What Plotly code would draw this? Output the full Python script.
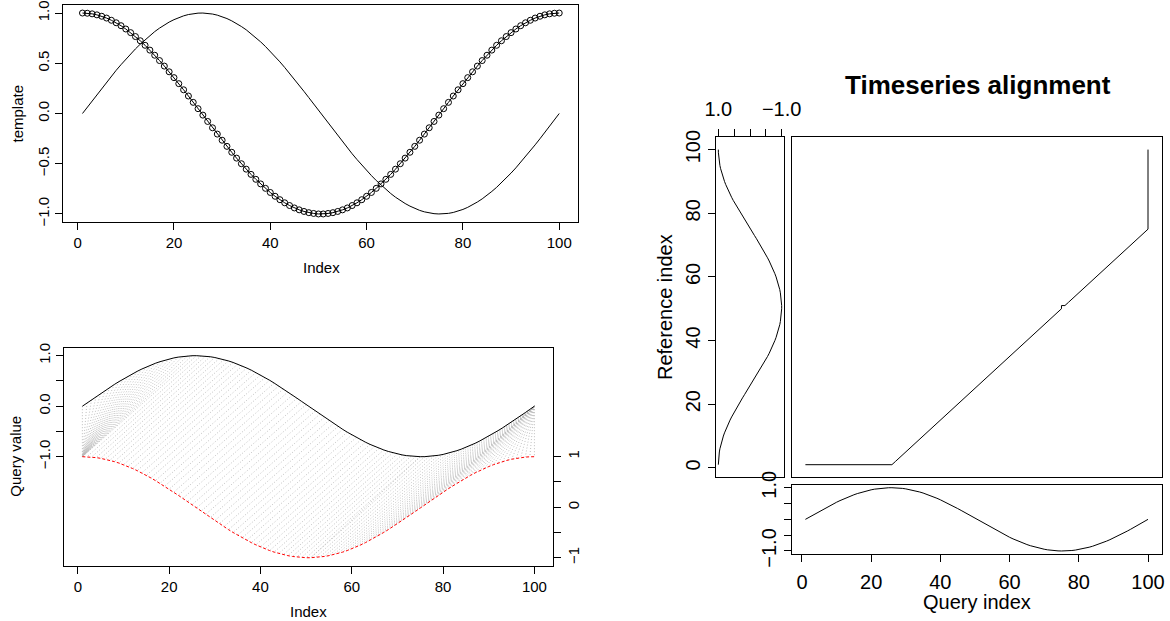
import plotly.graph_objects as go

# ---- data -------------------------------------------------------------
index = list(range(1, 101))

query = [
    0.000, 0.063, 0.127, 0.189, 0.251, 0.312, 0.372, 0.430, 0.486, 0.541,
    0.593, 0.643, 0.690, 0.735, 0.776, 0.815, 0.850, 0.881, 0.910, 0.934,
    0.955, 0.972, 0.985, 0.994, 0.999, 1.000, 0.997, 0.990, 0.979, 0.964,
    0.945, 0.922, 0.896, 0.866, 0.833, 0.796, 0.756, 0.713, 0.667, 0.618,
    0.567, 0.514, 0.458, 0.401, 0.342, 0.282, 0.220, 0.158, 0.095, 0.032,
    -0.032, -0.095, -0.158, -0.220, -0.282, -0.342, -0.401, -0.458, -0.514, -0.567,
    -0.618, -0.667, -0.713, -0.756, -0.796, -0.833, -0.866, -0.896, -0.922, -0.945,
    -0.964, -0.979, -0.990, -0.997, -1.000, -0.999, -0.994, -0.985, -0.972, -0.955,
    -0.934, -0.910, -0.881, -0.850, -0.815, -0.776, -0.735, -0.690, -0.643, -0.593,
    -0.541, -0.486, -0.430, -0.372, -0.312, -0.251, -0.189, -0.127, -0.063, 0.000,
]

template = [
    1.000, 0.998, 0.992, 0.982, 0.968, 0.950, 0.928, 0.903, 0.874, 0.841,
    0.805, 0.766, 0.724, 0.679, 0.631, 0.580, 0.527, 0.472, 0.415, 0.357,
    0.297, 0.236, 0.174, 0.111, 0.048, -0.016, -0.079, -0.142, -0.205, -0.266,
    -0.327, -0.386, -0.444, -0.500, -0.554, -0.606, -0.655, -0.701, -0.745, -0.786,
    -0.824, -0.858, -0.889, -0.916, -0.940, -0.959, -0.975, -0.987, -0.995, -1.000,
    -1.000, -0.995, -0.987, -0.975, -0.959, -0.940, -0.916, -0.889, -0.858, -0.824,
    -0.786, -0.745, -0.701, -0.655, -0.606, -0.554, -0.500, -0.444, -0.386, -0.327,
    -0.266, -0.205, -0.142, -0.079, -0.016, 0.048, 0.111, 0.174, 0.236, 0.297,
    0.357, 0.415, 0.472, 0.527, 0.580, 0.631, 0.679, 0.724, 0.766, 0.805,
    0.841, 0.874, 0.903, 0.928, 0.950, 0.968, 0.982, 0.992, 0.998, 1.000,
]

# warping path: matched (query index, reference index) pairs
path_query = [
    1, 2, 3, 4, 5, 6, 7, 8, 9, 10, 11, 12, 13, 14, 15, 16, 17, 18, 19, 20,
    21, 22, 23, 24, 25, 26,
    27, 28, 29, 30, 31, 32, 33, 34, 35, 36, 37, 38, 39, 40, 41, 42, 43, 44, 45,
    46, 47, 48, 49, 50, 51, 52, 53, 54, 55, 56, 57, 58, 59, 60, 61, 62, 63, 64,
    65, 66, 67, 68, 69, 70, 71, 72, 73, 74, 75,
    75,
    76, 77, 78, 79, 80, 81, 82, 83, 84, 85, 86, 87, 88, 89, 90, 91, 92, 93, 94,
    95, 96, 97, 98, 99, 100,
    100, 100, 100, 100, 100, 100, 100, 100, 100, 100, 100, 100, 100, 100, 100,
    100, 100, 100, 100, 100, 100, 100, 100, 100, 100,
]
path_ref = [
    1, 1, 1, 1, 1, 1, 1, 1, 1, 1, 1, 1, 1, 1, 1, 1, 1, 1, 1, 1,
    1, 1, 1, 1, 1, 1,
    2, 3, 4, 5, 6, 7, 8, 9, 10, 11, 12, 13, 14, 15, 16, 17, 18, 19, 20,
    21, 22, 23, 24, 25, 26, 27, 28, 29, 30, 31, 32, 33, 34, 35, 36, 37, 38, 39,
    40, 41, 42, 43, 44, 45, 46, 47, 48, 49, 50,
    51,
    51, 52, 53, 54, 55, 56, 57, 58, 59, 60, 61, 62, 63, 64, 65, 66, 67, 68, 69,
    70, 71, 72, 73, 74, 75,
    76, 77, 78, 79, 80, 81, 82, 83, 84, 85, 86, 87, 88, 89, 90,
    91, 92, 93, 94, 95, 96, 97, 98, 99, 100,
]

index_ticks = [0, 20, 40, 60, 80, 100]
value_ticks = [-1.0, -0.5, 0.0, 0.5, 1.0]
ref_offset = -2.0          # vertical shift of the reference in the two-way view

# ---- layout helpers ----------------------------------------------------
W, H = 1170, 621
FONT = "Liberation Sans, Arial, Helvetica, sans-serif"


def hx(a, b):
    return [a / W, b / W]


def vy(top, bottom):
    return [1 - bottom / H, 1 - top / H]


def axis_style(size=15, **kw):
    d = dict(showline=True, linecolor="black", linewidth=1, mirror=True,
             ticks="outside", ticklen=7, tickwidth=1, tickcolor="black",
             showgrid=False, zeroline=False, automargin=False,
             tickfont=dict(family=FONT, size=size, color="black"))
    d.update(kw)
    return d


idx_range = [-2.96, 103.96]
val_range = [-1.08, 1.08]

fig = go.Figure()
LINE = dict(color="black", width=1)

# ---- panel 1: template (points) and query -------------------------------
fig.add_trace(go.Scatter(x=index, y=query, mode="lines", line=LINE,
                         xaxis="x", yaxis="y", showlegend=False))
fig.add_trace(go.Scatter(x=index, y=template, mode="lines+markers", line=LINE,
                         marker=dict(symbol="circle-open", size=6, color="black",
                                     line=dict(width=1, color="black")),
                         xaxis="x", yaxis="y", showlegend=False))

# ---- panel 2: two-way alignment ----------------------------------------
cx, cy = [], []
for qi, rj in zip(path_query, path_ref):
    cx += [qi, rj, None]
    cy += [query[qi - 1], template[rj - 1] + ref_offset, None]
fig.add_trace(go.Scatter(x=cx, y=cy, mode="lines",
                         line=dict(color="#B8B8B8", width=0.9, dash="1px,2px"),
                         xaxis="x2", yaxis="y2", showlegend=False))
fig.add_trace(go.Scatter(x=index, y=query, mode="lines", line=LINE,
                         xaxis="x2", yaxis="y2", showlegend=False))
fig.add_trace(go.Scatter(x=index, y=template, mode="lines",
                         line=dict(color="red", width=1, dash="3px,2px"),
                         xaxis="x2", yaxis="y3", showlegend=False))

# ---- panel 3: three-way alignment --------------------------------------
fig.add_trace(go.Scatter(x=template, y=index, mode="lines", line=LINE,
                         xaxis="x3", yaxis="y4", showlegend=False))
fig.add_trace(go.Scatter(x=path_query, y=path_ref, mode="lines", line=LINE,
                         xaxis="x4", yaxis="y5", showlegend=False))
fig.add_trace(go.Scatter(x=index, y=query, mode="lines", line=LINE,
                         xaxis="x5", yaxis="y6", showlegend=False))

R = 20  # font size on the alignment panel

fig.update_layout(
    width=W, height=H, margin=dict(l=0, r=0, t=0, b=0, autoexpand=False),
    paper_bgcolor="white", plot_bgcolor="white",
    font=dict(family=FONT, color="black"),
    xaxis=axis_style(domain=hx(63.4, 578.3), range=idx_range, anchor="y",
                     tickvals=index_ticks),
    yaxis=axis_style(domain=vy(5, 222), range=val_range, anchor="x",
                     tickvals=value_ticks,
                     ticktext=["\u22121.0", "\u22120.5", "0.0", "0.5", "1.0"],
                     tickangle=-90),
    xaxis2=axis_style(domain=hx(64.3, 552.5), range=idx_range, anchor="y2",
                      tickvals=index_ticks),
    yaxis2=axis_style(domain=vy(347.6, 565.8), range=[-3.16, 1.16], anchor="x2",
                      tickvals=value_ticks,
                      ticktext=["\u22121.0", "", "0.0", "", "1.0"],
                      tickangle=-90, mirror=False),
    yaxis3=axis_style(overlaying="y2", side="right", anchor="x2",
                      range=[-3.16 - ref_offset, 1.16 - ref_offset],
                      tickvals=value_ticks,
                      ticktext=["\u22121", "", "0", "", "1"],
                      tickangle=-90, mirror=False),
    xaxis3=axis_style(size=R, domain=hx(715.8, 784.2), range=val_range[::-1],
                      anchor="y4", side="top", tickvals=value_ticks,
                      ticktext=["\u22121.0", "", "", "", "1.0"],
                      ticklabelstandoff=5),
    yaxis4=axis_style(size=R, domain=vy(137, 477.3), range=idx_range, anchor="x3",
                      tickvals=index_ticks, tickangle=-90),
    xaxis4=axis_style(domain=hx(791.7, 1161.7), range=idx_range, anchor="y5",
                      ticks="", showticklabels=False),
    yaxis5=axis_style(domain=vy(137, 477.3), range=idx_range, anchor="x4",
                      ticks="", showticklabels=False),
    xaxis5=axis_style(size=R, domain=hx(791.7, 1161.7), range=idx_range,
                      anchor="y6", tickvals=index_ticks, ticklabelstandoff=3),
    yaxis6=axis_style(size=R, domain=vy(485.2, 553.5), range=val_range,
                      anchor="x5", tickvals=value_ticks,
                      ticktext=["\u22121.0", "", "", "", "1.0"], tickangle=-90),
)


def label(text, x, y, size, angle=0, bold=False):
    fig.add_annotation(text=f"<b>{text}</b>" if bold else text,
                       x=x / W, y=1 - y / H, xref="paper", yref="paper",
                       showarrow=False, textangle=angle,
                       xanchor="center", yanchor="middle",
                       font=dict(family=FONT, size=size, color="black"))


label("Index", 321, 268, 15)
label("template", 17, 113.5, 15, angle=-90)
label("Index", 308.4, 611.7, 15)
label("Query value", 16, 456.7, 15, angle=-90)
label("Timeseries alignment", 977.5, 85, 26, bold=True)
label("Reference index", 665, 307, R, angle=-90)
label("Query index", 976.7, 601.7, R)

fig.write_html("out.html")
